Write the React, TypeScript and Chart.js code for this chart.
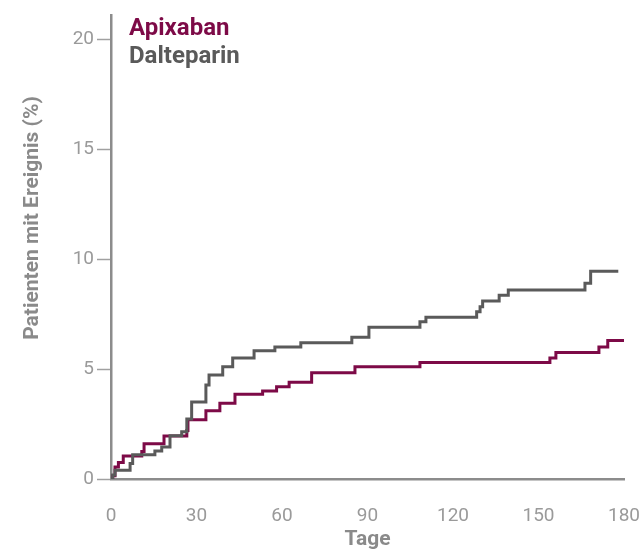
import React, { useEffect, useRef } from 'react';
import { Chart, registerables } from 'chart.js';

Chart.register(...registerables);

// ---- data ----
const seriesNames = ['Apixaban', 'Dalteparin'];

const apixabanDays = [0, 0.6, 1.4, 2.6, 4.3, 10.8, 11.6, 18.6, 26.6, 27, 33.3, 38.2, 43.5, 53.2, 58.1, 62.5, 70.4, 85.6, 108.4, 154, 156.1, 171.2, 174.3, 180];
const apixabanValues = [0, 0.15, 0.55, 0.75, 1.05, 1.25, 1.6, 1.95, 2.2, 2.7, 3.1, 3.45, 3.85, 4.0, 4.2, 4.4, 4.83, 5.1, 5.3, 5.5, 5.75, 6.0, 6.3, 6.3];

const dalteparinDays = [0, 0.6, 1.4, 6.7, 7.6, 15.4, 17.8, 20.7, 24.8, 26.6, 28.3, 33.3, 34.4, 39.2, 42.7, 50.2, 57.5, 66.6, 84.5, 90.5, 108.4, 110.5, 128.3, 129.5, 130.4, 136.2, 139.4, 166.3, 168.3, 178];
const dalteparinValues = [0, 0.18, 0.4, 0.7, 1.1, 1.27, 1.45, 1.97, 2.15, 2.73, 3.5, 4.27, 4.73, 5.1, 5.5, 5.83, 6.0, 6.2, 6.45, 6.9, 7.15, 7.35, 7.6, 7.83, 8.1, 8.36, 8.6, 8.9, 9.45, 9.45];

const xTicks = [0, 30, 60, 90, 120, 150, 180];
const yTicks = [0, 5, 10, 15, 20];
const xTitle = 'Tage';
const yTitle = 'Patienten mit Ereignis (%)';

// ---- styles ----
const FONT = 'Roboto, "Open Sans", sans-serif';
const APIX_COLOR = '#7d0a47';
const DALT_COLOR = '#5a5a5a';
const AXIS_COLOR = '#8c8c8c';
const TICK_TEXT = '#9a9a9a';
const TITLE_COLOR = '#8a8a8a';

const toPoints = (xs: number[], ys: number[]) => xs.map((x, i) => ({ x, y: ys[i] }));

const textPlugin = {
  id: 'customText',
  afterDraw(chart: any) {
    const ctx = chart.ctx as CanvasRenderingContext2D;
    const ca = chart.chartArea;
    ctx.save();
    ctx.textAlign = 'left';
    ctx.textBaseline = 'alphabetic';
    ctx.font = `bold 24px ${FONT}`;
    ctx.fillStyle = APIX_COLOR;
    ctx.fillText(seriesNames[0], 129, 35);
    ctx.fillStyle = DALT_COLOR;
    ctx.fillText(seriesNames[1], 129, 63);

    ctx.font = `bold 21px ${FONT}`;
    ctx.fillStyle = TITLE_COLOR;
    ctx.textAlign = 'center';
    ctx.fillText(xTitle, (ca.left + ca.right) / 2, 545);

    ctx.translate(38, 218);
    ctx.rotate(-Math.PI / 2);
    ctx.textBaseline = 'alphabetic';
    ctx.fillText(yTitle, 0, 0);
    ctx.restore();
  },
};

export default function App() {
  const canvasRef = useRef<HTMLCanvasElement | null>(null);

  useEffect(() => {
    if (!canvasRef.current) return;
    const chart = new Chart(canvasRef.current, {
      type: 'line',
      data: {
        datasets: [
          {
            label: seriesNames[1],
            data: toPoints(dalteparinDays, dalteparinValues),
            borderColor: DALT_COLOR,
            borderWidth: 3,
            stepped: 'before',
            pointRadius: 0,
            fill: false,
          },
          {
            label: seriesNames[0],
            data: toPoints(apixabanDays, apixabanValues),
            borderColor: APIX_COLOR,
            borderWidth: 3,
            stepped: 'before',
            pointRadius: 0,
            fill: false,
          },
        ],
      },
      options: {
        animation: false,
        responsive: false,
        maintainAspectRatio: false,
        layout: { padding: { left: 0, right: 18, top: 15, bottom: 0 } },
        plugins: {
          legend: { display: false },
          tooltip: { enabled: false },
          title: { display: false },
        },
        scales: {
          x: {
            type: 'linear',
            min: 0,
            max: 180,
            afterBuildTicks: (s: any) => {
              s.ticks = xTicks.map((v) => ({ value: v }));
            },
            afterFit: (s: any) => {
              s.height = 71;
              s.paddingLeft = 0;
              s.paddingRight = 0;
            },
            grid: { display: false },
            border: { display: true, color: AXIS_COLOR, width: 2.5 },
            ticks: {
              padding: 18,
              color: TICK_TEXT,
              font: { family: FONT, size: 19 },
              maxRotation: 0,
              autoSkip: false,
            },
          },
          y: {
            type: 'linear',
            min: 0,
            max: 21.1,
            afterBuildTicks: (s: any) => {
              s.ticks = yTicks.map((v) => ({ value: v }));
            },
            afterFit: (s: any) => {
              s.width = 111;
              s.paddingTop = 0;
              s.paddingBottom = 0;
            },
            grid: {
              display: true,
              drawOnChartArea: false,
              drawTicks: true,
              tickLength: 14,
              tickColor: '#a0a0a0',
              tickWidth: 1.5,
            },
            border: { display: true, color: AXIS_COLOR, width: 2.5 },
            ticks: {
              padding: 3,
              color: TICK_TEXT,
              font: { family: FONT, size: 19 },
            },
          },
        },
      },
      plugins: [textPlugin],
    });
    return () => chart.destroy();
  }, []);

  return (
    <div style={{ position: 'absolute', left: 0, top: 0, width: 642, height: 550 }}>
      <canvas ref={canvasRef} width={642} height={550} />
    </div>
  );
}
